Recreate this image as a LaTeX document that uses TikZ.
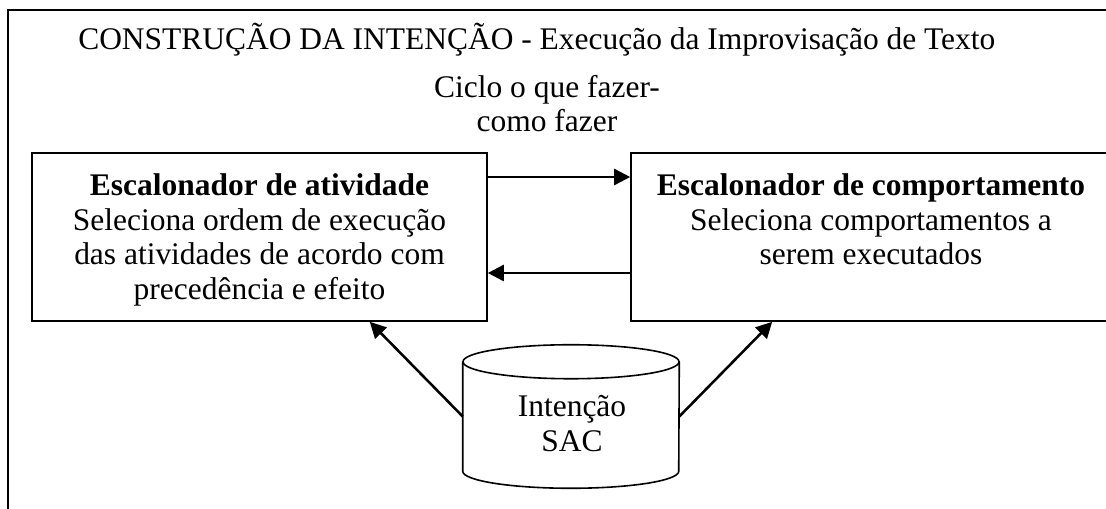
\documentclass[tikz,border=0pt]{standalone}
\usepackage{fontspec}
\setmainfont{Liberation Serif}
\usetikzlibrary{arrows.meta}
\begin{document}
\begin{tikzpicture}[x=0.75pt,y=-0.75pt,
    txt/.style={font=\fontsize{23.6}{25.9}\selectfont, inner sep=0pt, align=center},
    caixa/.style={draw, line width=1.2pt, inner sep=0pt, minimum height=126pt},
    seta/.style={-{Triangle[length=12pt,width=12pt]}, line width=1.9pt}]
    \useasboundingbox (0,0) rectangle (1106,508);
    \clip (0,0) rectangle (1106,508);
    \draw[line width=1.1pt] (8,10) rectangle (1130,530);
    \node[txt, anchor=base west] (titulo) at (78,49) {CONSTRUÇÃO DA INTENÇÃO - Execução da Improvisação de Texto};
    \node[txt, anchor=north] (ciclo) at (547,75) {Ciclo o que fazer-\\como fazer};
    % caixas dos escalonadores
    \node[caixa, minimum width=341.25pt] (ativ) at (259.5,237) {};
    \node[caixa, minimum width=360pt] (comp) at (871,237) {};
    \node[txt, anchor=north] (ativtxt) at (259.5,173.5) {\textbf{Escalonador de atividade}\\Seleciona ordem de execução\\das atividades de acordo com\\precedência e efeito};
    \node[txt, anchor=north] (comptxt) at (871,173.5) {\textbf{Escalonador de comportamento}\\Seleciona comportamentos a\\serem executados};
    % cilindro
    \node[minimum width=162pt, minimum height=81.75pt, inner sep=0pt] (sac) at (571,416.5) {};
    \draw[line width=1.2pt] (sac.north west) -- (sac.south west) arc[start angle=180, end angle=0, x radius=108, y radius=17] -- (sac.north east);
    \draw[line width=1.2pt] (sac.north) ellipse[x radius=108, y radius=17];
    \node[txt, anchor=north] (sactxt) at (572,395) {Intenção\\SAC};
    % setas
    \draw[seta] ([yshift=45pt]ativ.east) -- ([yshift=45pt]comp.west);
    \draw[seta] ([yshift=-27pt]comp.west) -- ([yshift=-27pt]ativ.east);
    \draw[seta] (sac.west) -- ([xshift=-88.5pt]ativ.south east);
    \draw[seta] (sac.east) -- ([xshift=106.5pt]comp.south west);
\end{tikzpicture}
\end{document}
